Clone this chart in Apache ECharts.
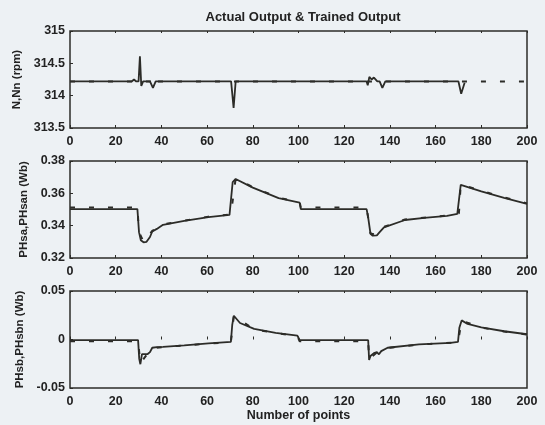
<!DOCTYPE html>
<html>
<head>
<meta charset="utf-8">
<script src="https://cdn.jsdelivr.net/npm/echarts@6/dist/echarts.min.js"></script>
<style>
  html, body { margin: 0; padding: 0; background: #edf1f4; }
  #chart { width: 545px; height: 425px; }
</style>
</head>
<body>
<div id="chart"></div>
<script>
    // speed N (actual) and Nn (trained)
    var speed_x = [0, 27, 28, 29, 30, 30.6, 31.2, 32, 35, 36.3, 37.5, 70.5, 71.6, 72.5, 129.8, 130.3, 131, 132, 133, 134.5, 135.5, 136.7, 138, 170, 171.2, 172.7];
    var speed_actual = [314.22, 314.22, 314.25, 314.22, 314.22, 314.61, 314.15, 314.22, 314.22, 314.12, 314.22, 314.22, 313.81, 314.22, 314.22, 314.16, 314.29, 314.25, 314.28, 314.22, 314.22, 314.12, 314.22, 314.22, 314.03, 314.2];
    var speed_trained_x = [0, 35.5, 36, 36.5, 200];
    var speed_trained = [314.22, 314.22, 314.29, 314.22, 314.22];

    // flux PHsa / PHsan
    var phsa_x = [0, 29.5, 30.2, 31, 32.2, 33.5, 35, 36, 38, 40.7, 50, 60.6, 69.8, 70.4, 71.2, 72.5, 80, 91.3, 100.5, 101, 129.8, 130.5, 131.5, 132.5, 134.3, 135.5, 137.4, 146.6, 155, 165, 169.5, 170.2, 171, 180, 190, 200];
    var phsa_actual = [0.3502, 0.3502, 0.336, 0.331, 0.3297, 0.330, 0.333, 0.3364, 0.338, 0.3405, 0.343, 0.3453, 0.3467, 0.3467, 0.367, 0.3689, 0.3635, 0.357, 0.3543, 0.3502, 0.3502, 0.345, 0.335, 0.3338, 0.334, 0.336, 0.339, 0.3435, 0.3448, 0.346, 0.3473, 0.3473, 0.3652, 0.3612, 0.3572, 0.3535];
    var phsa_trained_x = [0, 29.5, 30.2, 32.2, 36, 40.7, 60.6, 70.4, 72.5, 80, 91.3, 100.5, 101, 129.8, 131.5, 134.3, 137.4, 146.6, 165, 170.2, 171, 180, 190, 200];
    var phsa_trained = [0.3513, 0.3513, 0.336, 0.3300, 0.3368, 0.3408, 0.3456, 0.3470, 0.3692, 0.3638, 0.3573, 0.3546, 0.3513, 0.3513, 0.3352, 0.3343, 0.3393, 0.3438, 0.3463, 0.3476, 0.3655, 0.3615, 0.3575, 0.3538];

    // flux PHsb / PHsbn
    var phsb_x = [0, 29.8, 30.3, 30.8, 31.5, 34, 35, 36, 38, 40.7, 50, 60.6, 70.4, 71, 71.7, 74.4, 80.6, 90, 99.5, 100.5, 130.5, 130.9, 131.5, 133, 134.3, 135.2, 136.2, 139, 152.7, 166.5, 169.8, 170.4, 171.4, 174, 180, 190, 200];
    var phsb_actual = [-0.0007, -0.0007, -0.02, -0.0255, -0.015, -0.015, -0.013, -0.0085, -0.0078, -0.0075, -0.006, -0.004, -0.0024, 0.015, 0.0245, 0.017, 0.0109, 0.0068, 0.004, -0.0007, -0.0007, -0.021, -0.017, -0.014, -0.013, -0.0153, -0.012, -0.0085, -0.005, -0.0034, -0.0025, 0.012, 0.0197, 0.016, 0.0126, 0.0085, 0.0054];
    var phsb_trained_x = [0, 29.8, 30.8, 34, 36, 40.7, 60.6, 70.4, 71.7, 80.6, 90, 99.5, 100.5, 130.5, 130.9, 134.3, 139, 152.7, 169.8, 171.4, 180, 190, 200];
    var phsb_trained = [-0.0018, -0.0018, -0.0245, -0.0145, -0.0088, -0.0078, -0.0043, -0.0027, 0.0242, 0.0106, 0.0065, 0.0037, -0.0018, -0.0018, -0.0205, -0.0133, -0.0088, -0.0053, -0.0028, 0.0194, 0.0123, 0.0082, 0.0051];

    function zip(xs, ys) {
        return xs.map(function (x, i) { return [x, ys[i]]; });
    }

    var ink = '#2c2c28';
    var font = 'Liberation Sans, Arial, sans-serif';
    var grid_tops = [31, 161, 291];
    var y_ranges = [[313.5, 315, 0.5], [0.32, 0.38, 0.02], [-0.05, 0.05, 0.05]];
    var y_names = ['N,Nn (rpm)', 'PHsa,PHsan (Wb)', 'PHsb,PHsbn (Wb)'];
    var y_gaps = [44, 34, 44];

    var grids = [], xAxes = [], yAxes = [], series = [];
    var actuals = [zip(speed_x, speed_actual), zip(phsa_x, phsa_actual), zip(phsb_x, phsb_actual)];
    var trains = [zip(speed_trained_x, speed_trained), zip(phsa_trained_x, phsa_trained), zip(phsb_trained_x, phsb_trained)];

    for (var i = 0; i < 3; i++) {
        grids.push({
            left: 70, top: grid_tops[i], width: 457, height: 97,
            show: true, borderColor: ink, borderWidth: 1.5, backgroundColor: 'transparent'
        });
        xAxes.push({
            type: 'value', gridIndex: i, min: 0, max: 200, interval: 20,
            axisLine: { show: false },
            axisTick: { inside: true, length: 3, lineStyle: { color: ink } },
            axisLabel: { color: '#222', fontSize: 12.5, fontWeight: 'bold', fontFamily: font, margin: 7 },
            splitLine: { show: false },
            name: i == 2 ? 'Number of points' : '',
            nameLocation: 'middle', nameGap: 21,
            nameTextStyle: { color: '#222', fontSize: 12.5, fontWeight: 'bold', fontFamily: font }
        });
        xAxes.push({
            type: 'value', gridIndex: i, min: 0, max: 200, interval: 20, position: 'top',
            axisLine: { show: false },
            axisTick: { inside: true, length: 2, lineStyle: { color: ink } },
            axisLabel: { show: false },
            splitLine: { show: false }
        });
        yAxes.push({
            type: 'value', gridIndex: i,
            min: y_ranges[i][0], max: y_ranges[i][1], interval: y_ranges[i][2],
            axisLine: { show: false },
            axisTick: { inside: true, length: 3, lineStyle: { color: ink } },
            axisLabel: { color: '#222', fontSize: 12.5, fontWeight: 'bold', fontFamily: font, margin: 5 },
            splitLine: { show: false },
            name: y_names[i], nameLocation: 'middle', nameGap: y_gaps[i], nameRotate: 90,
            nameTextStyle: { color: '#222', fontSize: 11.5, fontWeight: 'bold', fontFamily: font }
        });
        series.push({
            type: 'line', xAxisIndex: i * 2, yAxisIndex: i, data: actuals[i],
            showSymbol: false, silent: true, animation: false,
            lineStyle: { color: ink, width: 1.8 }
        });
        series.push({
            type: 'line', xAxisIndex: i * 2, yAxisIndex: i, data: trains[i],
            showSymbol: false, silent: true, animation: false,
            lineStyle: { color: ink, width: 2, type: [5, 14] }
        });
    }

    var myChart = echarts.init(document.getElementById('chart'));
    var option = {
        backgroundColor: '#edf1f4',
        animation: false,
        title: {
            text: 'Actual Output & Trained Output', left: 298, top: 6, textAlign: 'center',
            textStyle: { color: '#222', fontSize: 13, fontWeight: 'bold', fontFamily: font }
        },
        grid: grids,
        xAxis: xAxes,
        yAxis: yAxes,
        series: series
    };
    myChart.setOption(option);
</script>
</body>
</html>
